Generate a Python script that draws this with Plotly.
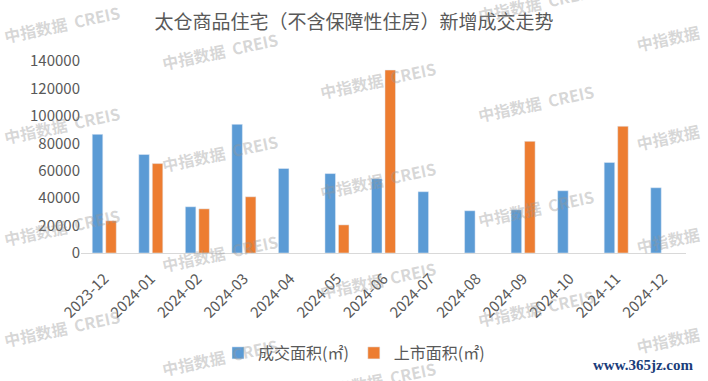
import plotly.graph_objects as go

months = ["2023-12", "2024-01", "2024-02", "2024-03", "2024-04", "2024-05", "2024-06",
          "2024-07", "2024-08", "2024-09", "2024-10", "2024-11", "2024-12"]
deal_area = [86500, 71800, 33700, 93800, 61600, 57900, 54200,
             44700, 30800, 31500, 45400, 66000, 47600]
listed_area = [23500, 65200, 32200, 41000, None, 20500, 133400,
               None, None, 81400, None, 92400, None]
y_ticks = [0, 20000, 40000, 60000, 80000, 100000, 120000, 140000]

W, H = 708, 381
L, R, T, B = 81, 22, 61, 128

fig = go.Figure()
fig.add_trace(go.Bar(x=months, y=deal_area, name="成交面积(㎡)", marker_color="#5B9BD5"))
fig.add_trace(go.Bar(x=months, y=listed_area, name="上市面积(㎡)", marker_color="#ED7D31"))

# watermark layout (pixel centres in the picture)
wm_full = [(62, 24), (62, 125), (62, 227), (62, 328),
           (220, 51), (220, 153), (220, 253), (220, 357),
           (378, 80), (378, 180), (378, 280), (378, 380),
           (536, 3), (536, 103), (536, 208), (536, 308)]
wm_right = [(668, 38), (668, 137), (668, 240), (668, 340)]

wm_font = dict(family="Noto Sans CJK SC", size=16, color="rgba(150,150,150,0.38)")


def to_paper(px, py):
    return (px - L) / (W - L - R), (H - B - py) / (H - T - B)


annotations = []
for pts, txt in ((wm_full, "<b>中指数据  CREIS</b>"), (wm_right, "<b>中指数据</b>")):
    for px, py in pts:
        x, y = to_paper(px, py)
        annotations.append(dict(text=txt, x=x, y=y, xref="paper", yref="paper", showarrow=False,
                                textangle=-12, xanchor="center", yanchor="middle", font=wm_font))

x, y = to_paper(643, 365)
annotations.append(dict(text="<b>www.365jz.com</b>", x=x, y=y, xref="paper", yref="paper",
                        showarrow=False, xanchor="center", yanchor="middle",
                        font=dict(family="Liberation Serif", size=15, color="#1B3D7A")))

fig.update_layout(
    width=W, height=H,
    margin=dict(l=L, r=R, t=T, b=B, autoexpand=False),
    paper_bgcolor="white", plot_bgcolor="white",
    barmode="group", bargap=0.42, bargroupgap=0.22,
    title=dict(text="太仓商品住宅（不含保障性住房）新增成交走势", x=0.5, xanchor="center",
               y=1 - 22 / H, yanchor="middle",
               font=dict(family="Noto Sans CJK SC", size=19, color="#595959")),
    font=dict(family="Noto Sans CJK SC", color="#595959"),
    xaxis=dict(type="category", tickangle=-45, tickfont=dict(size=15, color="#595959"), showline=True,
               linecolor="#D9D9D9", linewidth=1, showgrid=False, ticks="", automargin=False,
               ticklabelstandoff=10),
    yaxis=dict(range=[0, 140000], tickvals=y_ticks, ticktext=[str(v) for v in y_ticks],
               tickfont=dict(size=15, color="#595959"), showgrid=False, zeroline=False,
               showline=False, ticks="", automargin=False),
    legend=dict(orientation="h", xref="container", yref="container", x=0.5, xanchor="center",
                y=(H - 353) / H, yanchor="middle", font=dict(size=16, color="#595959"),
                itemwidth=30),
    annotations=annotations,
    showlegend=True,
)

fig.write_html("out.html", config={"displayModeBar": False},
               post_script="document.body.style.margin='0';document.body.style.overflow='hidden';")
